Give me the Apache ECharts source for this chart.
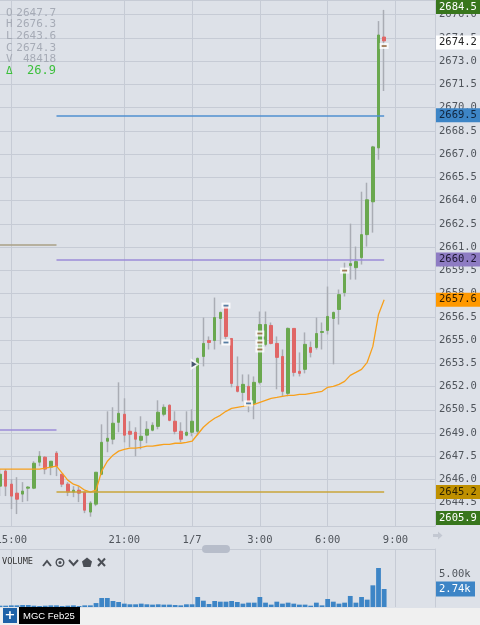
<!DOCTYPE html>
<html><head><meta charset="utf-8">
<script src="https://cdn.jsdelivr.net/npm/echarts@6/dist/echarts.min.js"></script>
<style>html,body{margin:0;padding:0;background:#dde1e8;}#c{width:480px;height:625px;}</style>
</head><body><div id="c"></div>
<script>
// ---- categories (15-minute bars, 1/6 14:30 .. 1/7 10:45, CME break 17:00-18:00) ----
const categories = [];
(function () {
  const f = (h, m) => h + ':' + (m < 10 ? '0' + m : m);
  let h = 14, m = 30;
  while (!(h === 17 && m === 0)) { categories.push(f(h, m)); m += 15; if (m === 60) { m = 0; h++; } }
  h = 18; m = 0;
  while (categories.length < 78) { categories.push(h === 0 && m === 0 ? '1/7' : f(h, m)); m += 15; if (m === 60) { m = 0; h = (h + 1) % 24; } }
})();
const timeTicks = ['15:00', '21:00', '1/7', '3:00', '6:00', '9:00'];

// ---- OHLC ----
const opens = [2645.57, 2646.54, 2645.70, 2645.12, 2645.06, 2645.44, 2645.44, 2647.12, 2647.44, 2646.80,
  2647.70, 2646.34, 2645.70, 2645.19, 2645.31, 2645.19, 2643.90, 2644.41, 2646.34, 2648.47,
  2648.60, 2649.69, 2650.21, 2649.11, 2649.05, 2648.53, 2648.86, 2649.18, 2649.43, 2650.21,
  2650.79, 2649.76, 2649.11, 2648.86, 2649.05, 2649.11, 2653.94, 2654.97, 2654.97, 2656.39,
  2657.16, 2655.10, 2652.01, 2651.62, 2652.01, 2650.91, 2652.27, 2654.72, 2655.94, 2654.78,
  2653.94, 2651.56, 2655.75, 2652.98, 2653.11, 2654.52, 2654.52, 2655.49, 2655.62, 2656.39,
  2656.97, 2658.06, 2659.80, 2659.67, 2660.32, 2661.80, 2663.92, 2667.40, 2674.55];
const closes = [2646.34, 2645.57, 2644.93, 2644.73, 2645.25, 2645.51, 2647.05, 2647.50, 2646.67, 2647.18,
  2646.86, 2645.70, 2645.19, 2645.31, 2645.12, 2644.02, 2644.48, 2646.47, 2648.40, 2648.66,
  2649.63, 2650.27, 2648.86, 2648.92, 2648.60, 2648.79, 2649.24, 2649.50, 2650.34, 2650.66,
  2649.82, 2649.11, 2648.60, 2649.05, 2649.76, 2653.81, 2654.78, 2654.84, 2656.45, 2656.78,
  2655.23, 2652.20, 2651.69, 2652.14, 2651.04, 2652.27, 2656.00, 2656.00, 2654.78, 2653.88,
  2651.69, 2655.75, 2652.91, 2652.85, 2654.72, 2654.20, 2655.42, 2655.55, 2656.52, 2656.78,
  2657.93, 2659.35, 2659.93, 2660.06, 2661.80, 2664.05, 2667.46, 2674.68, 2674.30];
const lows = [2644.93, 2644.93, 2644.09, 2643.77, 2644.54, 2644.60, 2645.38, 2646.86, 2646.34, 2646.28,
  2646.22, 2645.51, 2644.93, 2644.86, 2644.54, 2643.83, 2643.60, 2644.28, 2646.28, 2647.76,
  2648.27, 2649.05, 2648.40, 2648.08, 2647.50, 2647.95, 2648.34, 2649.11, 2649.24, 2650.08,
  2649.76, 2648.92, 2648.40, 2648.79, 2648.79, 2648.86, 2653.30, 2654.39, 2654.39, 2654.72,
  2655.04, 2651.95, 2651.62, 2651.04, 2650.34, 2649.89, 2652.14, 2654.59, 2654.72, 2651.82,
  2651.37, 2651.37, 2652.65, 2652.65, 2652.85, 2653.88, 2654.39, 2654.39, 2655.36, 2653.43,
  2656.00, 2657.81, 2658.90, 2658.90, 2659.87, 2661.03, 2661.93, 2666.63, 2671.07];
const highs = [2646.67, 2646.67, 2646.02, 2646.15, 2645.83, 2645.57, 2647.18, 2647.83, 2647.50, 2647.18,
  2647.83, 2646.34, 2645.83, 2645.57, 2645.57, 2645.19, 2644.60, 2646.47, 2649.56, 2650.40,
  2650.66, 2652.27, 2651.24, 2649.76, 2649.37, 2650.08, 2649.76, 2649.69, 2651.11, 2650.85,
  2650.85, 2650.40, 2649.69, 2650.40, 2650.53, 2653.88, 2656.45, 2655.23, 2657.74, 2656.84,
  2657.29, 2655.10, 2653.94, 2652.78, 2652.78, 2652.65, 2656.84, 2656.84, 2656.13, 2655.23,
  2654.39, 2655.81, 2655.75, 2654.20, 2655.49, 2654.91, 2656.45, 2656.13, 2658.45, 2656.84,
  2658.26, 2659.99, 2662.51, 2661.03, 2664.57, 2665.15, 2667.53, 2675.58, 2676.30];

// ---- VWAP ----
const vwap = [2646.67, 2646.67, 2646.67, 2646.67, 2646.67, 2646.67, 2646.67, 2646.67, 2646.73, 2646.80,
  2646.86, 2646.41, 2645.96, 2645.70, 2645.57, 2645.31, 2645.19, 2645.31, 2646.54, 2647.18,
  2647.57, 2647.83, 2647.95, 2648.02, 2648.02, 2648.08, 2648.15, 2648.15, 2648.21, 2648.27,
  2648.27, 2648.34, 2648.34, 2648.40, 2648.47, 2648.92, 2649.37, 2649.69, 2649.95, 2650.14,
  2650.40, 2650.59, 2650.66, 2650.72, 2650.79, 2650.85, 2650.98, 2651.11, 2651.24, 2651.30,
  2651.37, 2651.43, 2651.43, 2651.49, 2651.49, 2651.56, 2651.62, 2651.69, 2651.95, 2652.01,
  2652.14, 2652.33, 2652.72, 2652.91, 2653.11, 2653.56, 2654.59, 2656.65, 2657.60];

// ---- volume ----
const volumes = [200, 200, 250, 250, 300, 300, 200, 150, 200, 250,
  250, 150, 200, 250, 150, 250, 250, 600, 1370, 1370,
  910, 760, 510, 410, 410, 510, 410, 360, 410, 360,
  360, 300, 250, 410, 410, 1520, 960, 460, 910, 810,
  810, 910, 760, 510, 660, 660, 1520, 660, 360, 810,
  510, 660, 510, 360, 360, 200, 660, 250, 1220, 810,
  510, 660, 1680, 660, 1520, 1120, 3300, 5940, 2740];

// ---- levels ----
const sessionLevels = [ { v: 2669.5, c: '#4f8fd0' }, { v: 2660.2, c: '#9b8bd8' }, { v: 2645.2, c: '#c9a43a' } ];
const priorLevels = [ { v: 2661.15, c: '#a89f86' }, { v: 2649.24, c: '#9b8bd8' } ];

// ---- fill markers ----
const blueFills = [[40, 2657.22], [40, 2654.84], [44, 2650.91]];
const brownFills = [[46, 2655.42], [46, 2654.84], [46, 2654.39], [61, 2659.48], [68, 2673.97]];
const arrowMark = [[34, 2653.43]];

// ---- axis tags ----
const priceTags = [
  { v: 2684.5, bg: '#38761d', fg: '#ffffff' },
  { v: 2674.2, bg: '#ffffff', fg: '#222222' },
  { v: 2669.5, bg: '#3d85c6', fg: '#10243c' },
  { v: 2660.2, bg: '#8e7cc3', fg: '#1c1630' },
  { v: 2657.6, bg: '#ff9900', fg: '#2a1a00' },
  { v: 2645.2, bg: '#bf9000', fg: '#2a1f00' },
  { v: 2605.9, bg: '#38761d', fg: '#ffffff' }
];
const volumeTag = { v: 2740, text: '2.74k' };
const ohlcLegend = [['O', '2647.7'], ['H', '2676.3'], ['L', '2643.6'], ['C', '2674.3'], ['V', '48418']];
const deltaLegend = '26.9';

const GRID = '#c6cbd5', TXT = '#50555c', MONO = 'DejaVu Sans Mono';
const wickData = opens.map((o, i) => [o, closes[i], lows[i], highs[i]]);
const bodyData = opens.map((o, i) => [o, closes[i], Math.min(o, closes[i]), Math.max(o, closes[i])]);
const tickSet = new Set(timeTicks);
const isTick = (i) => tickSet.has(categories[i]);

const markLineData = [];
sessionLevels.forEach(l => markLineData.push([{ coord: [categories[10], l.v], lineStyle: { color: l.c } }, { coord: [categories[68], l.v] }]));
priorLevels.forEach(l => markLineData.push([{ coord: [categories[0], l.v], lineStyle: { color: l.c } }, { coord: [categories[10], l.v] }]));

const option = {
  animation: false,
  backgroundColor: '#dde1e8',
  grid: [
    { left: 0, top: 0, width: 435, height: 526, containLabel: false, outerBoundsMode: 'none' },
    { left: 0, top: 549, width: 435, height: 58, containLabel: false, outerBoundsMode: 'none' }
  ],
  xAxis: [
    { type: 'category', gridIndex: 0, data: categories, boundaryGap: false,
      axisLine: { show: true, lineStyle: { color: GRID } }, axisTick: { show: false },
      axisLabel: { interval: (i) => isTick(i), margin: 9, color: TXT, fontFamily: MONO, fontSize: 10.5, hideOverlap: false },
      splitLine: { show: true, interval: (i) => isTick(i), lineStyle: { color: GRID, width: 1 } } },
    { type: 'category', gridIndex: 1, data: categories, boundaryGap: false,
      axisLine: { show: false }, axisTick: { show: false }, axisLabel: { show: false },
      splitLine: { show: true, interval: (i) => isTick(i), lineStyle: { color: GRID, width: 1 } } }
  ],
  yAxis: [
    { type: 'value', gridIndex: 0, position: 'right', min: 2643.0, max: 2676.94, interval: 1.5,
      axisLine: { show: true, lineStyle: { color: GRID } }, axisTick: { show: false },
      axisLabel: { formatter: (v) => v.toFixed(1), color: TXT, fontFamily: MONO, fontSize: 10.5, margin: 4, showMinLabel: false, showMaxLabel: false },
      splitLine: { show: true, lineStyle: { color: GRID, width: 1 } } },
    { type: 'value', gridIndex: 1, position: 'right', min: 0, max: 8830, interval: 5000,
      axisLine: { show: true, lineStyle: { color: GRID } }, axisTick: { show: false },
      axisLabel: { formatter: (v) => v === 5000 ? '5.00k' : '', color: TXT, fontFamily: MONO, fontSize: 10.5, margin: 4 },
      splitLine: { show: false } }
  ],
  series: [
    { type: 'candlestick', name: 'wick', xAxisIndex: 0, yAxisIndex: 0, data: wickData, barWidth: 1, silent: true,
      itemStyle: { color: '#a9acb4', color0: '#a9acb4', borderColor: '#a9acb4', borderColor0: '#a9acb4', borderWidth: 1.5 } },
    { type: 'candlestick', name: 'body', xAxisIndex: 0, yAxisIndex: 0, data: bodyData, barWidth: 3, silent: true,
      itemStyle: { color: '#6aa84f', color0: '#e06666', borderColor: '#6aa84f', borderColor0: '#e06666', borderWidth: 1 } },
    { type: 'line', name: 'VWAP', xAxisIndex: 0, yAxisIndex: 0, data: vwap, symbol: 'none', silent: true,
      lineStyle: { color: '#f7a01c', width: 1.3 },
      markLine: { silent: true, symbol: ['none', 'none'], label: { show: false }, lineStyle: { type: 'solid', width: 1.5 }, data: markLineData } },
    { type: 'scatter', xAxisIndex: 0, yAxisIndex: 0, silent: true, symbol: 'rect', symbolSize: [9, 6],
      itemStyle: { color: '#ffffff' }, data: blueFills.concat(brownFills), z: 5 },
    { type: 'scatter', xAxisIndex: 0, yAxisIndex: 0, silent: true, symbol: 'rect', symbolSize: [5, 1.8],
      itemStyle: { color: '#2e5e8c' }, data: blueFills, z: 6 },
    { type: 'scatter', xAxisIndex: 0, yAxisIndex: 0, silent: true, symbol: 'rect', symbolSize: [5, 1.8],
      itemStyle: { color: '#8a5a2c' }, data: brownFills, z: 6 },
    { type: 'scatter', xAxisIndex: 0, yAxisIndex: 0, silent: true, symbol: 'triangle', symbolRotate: -90,
      symbolSize: [12, 9], symbolOffset: [3, 0], itemStyle: { color: '#ffffff' }, data: arrowMark, z: 5 },
    { type: 'scatter', xAxisIndex: 0, yAxisIndex: 0, silent: true, symbol: 'triangle', symbolRotate: -90,
      symbolSize: [6, 5], symbolOffset: [2, 0], itemStyle: { color: '#1d2d4d' }, data: arrowMark, z: 6 },
    { type: 'bar', name: 'Volume', xAxisIndex: 1, yAxisIndex: 1, data: volumes, barWidth: 4.8, silent: true,
      itemStyle: { color: '#3d85c6' } }
  ]
};

const chart = echarts.init(document.getElementById('c'), null, { renderer: 'canvas' });
chart.setOption(option);

const g = [];
// price tags on the right axis
priceTags.forEach(t => {
  let y = chart.convertToPixel({ yAxisIndex: 0 }, t.v) - 7;
  y = Math.max(0, Math.min(511, y));
  g.push({ type: 'rect', shape: { x: 436, y: y, width: 44, height: 14 }, style: { fill: t.bg }, z: 100 });
  g.push({ type: 'text', x: 439, y: y + 7, style: { text: t.v.toFixed(1), fill: t.fg, font: '10.5px "DejaVu Sans Mono"', textVerticalAlign: 'middle', verticalAlign: 'middle' }, z: 101 });
});
// volume tag
{
  const y = chart.convertToPixel({ yAxisIndex: 1 }, volumeTag.v) - 7.5;
  g.push({ type: 'rect', shape: { x: 436, y: y, width: 39, height: 15 }, style: { fill: '#3d85c6' }, z: 100 });
  g.push({ type: 'text', x: 439, y: y + 7.5, style: { text: volumeTag.text, fill: '#ffffff', font: '10.5px "DejaVu Sans Mono"', verticalAlign: 'middle' }, z: 101 });
}
// OHLC legend
ohlcLegend.forEach((r, i) => {
  const y = 13 + i * 11.6;
  g.push({ type: 'text', x: 6, y: y, style: { text: r[0], fill: '#a6abb6', font: '11px "DejaVu Sans Mono"', verticalAlign: 'middle' }, z: 50 });
  g.push({ type: 'text', x: 56, y: y, style: { text: r[1], fill: '#a6abb6', font: '11px "DejaVu Sans Mono"', align: 'right', verticalAlign: 'middle' }, z: 50 });
});
g.push({ type: 'text', x: 6, y: 71, style: { text: 'Δ', fill: '#3cbf3c', font: '11px "DejaVu Sans Mono"', verticalAlign: 'middle' }, z: 50 });
g.push({ type: 'text', x: 56, y: 71, style: { text: deltaLegend, fill: '#3cbf3c', font: '12px "DejaVu Sans Mono"', align: 'right', verticalAlign: 'middle' }, z: 50 });
// volume panel top separator, title and icons
g.push({ type: 'line', shape: { x1: 0, y1: 549.5, x2: 435, y2: 549.5 }, style: { stroke: GRID, lineWidth: 1 }, z: 40 });
g.push({ type: 'text', x: 2, y: 562, style: { text: 'VOLUME', fill: '#333', font: '8.6px "DejaVu Sans Mono"', verticalAlign: 'middle' }, z: 50 });
const IC = '#4a4e55';
g.push({ type: 'polyline', shape: { points: [[43, 566], [47, 561], [51, 566]] }, style: { stroke: IC, lineWidth: 2, fill: null }, z: 50 });
g.push({ type: 'circle', shape: { cx: 60, cy: 562.5, r: 3.8 }, style: { stroke: IC, lineWidth: 1.4, fill: null }, z: 50 });
g.push({ type: 'circle', shape: { cx: 60, cy: 562.5, r: 1.5 }, style: { fill: IC }, z: 50 });
g.push({ type: 'polyline', shape: { points: [[69, 560], [73.5, 565], [78, 560]] }, style: { stroke: IC, lineWidth: 2, fill: null }, z: 50 });
g.push({ type: 'polygon', shape: { points: [[87, 557.5], [92, 561.5], [90.5, 567], [83.5, 567], [82, 561.5]] }, style: { fill: IC }, z: 50 });
g.push({ type: 'line', shape: { x1: 98, y1: 558.5, x2: 105, y2: 566 }, style: { stroke: IC, lineWidth: 2 }, z: 50 });
g.push({ type: 'line', shape: { x1: 105, y1: 558.5, x2: 98, y2: 566 }, style: { stroke: IC, lineWidth: 2 }, z: 50 });
// scroll handle and right arrow
g.push({ type: 'rect', shape: { x: 202, y: 545, width: 28, height: 8, r: 4 }, style: { fill: '#b7bdca' }, z: 60 });
g.push({ type: 'polygon', shape: { points: [[433, 534], [438, 534], [438, 531.5], [442.5, 535.5], [438, 539.5], [438, 537], [433, 537]] }, style: { fill: '#c3c8d2' }, z: 60 });
// bottom tab bar
g.push({ type: 'rect', shape: { x: 0, y: 608, width: 480, height: 17 }, style: { fill: '#f0f0f0' }, z: 70 });
g.push({ type: 'rect', shape: { x: 3, y: 608, width: 14, height: 15 }, style: { fill: '#1e62a8' }, z: 71 });
g.push({ type: 'text', x: 10, y: 616, style: { text: '+', fill: '#fff', font: 'bold 13px "DejaVu Sans"', align: 'center', verticalAlign: 'middle' }, z: 72 });
g.push({ type: 'rect', shape: { x: 19, y: 607, width: 61, height: 17 }, style: { fill: '#000' }, z: 71 });
g.push({ type: 'text', x: 23, y: 616, style: { text: 'MGC Feb25', fill: '#fff', font: '9.5px "Liberation Sans"', verticalAlign: 'middle' }, z: 72 });

chart.setOption({ graphic: g });
</script>
</body></html>
